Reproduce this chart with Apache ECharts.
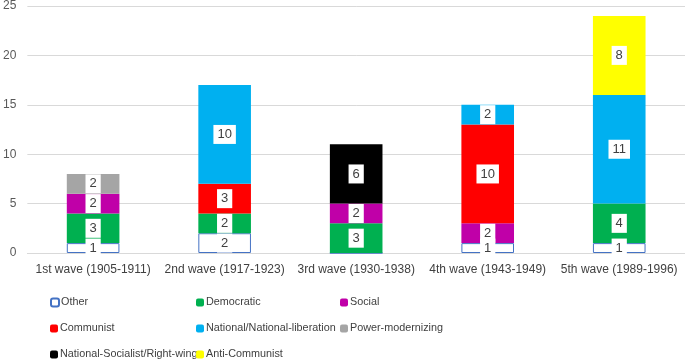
<!DOCTYPE html>
<html>
<head>
<meta charset="utf-8">
<script src="https://cdn.jsdelivr.net/npm/echarts@6/dist/echarts.min.js"></script>
<style>
  html, body { margin: 0; padding: 0; background: #fff; }
  #chart { width: 685px; height: 362px; }
</style>
</head>
<body>
<div id="chart"></div>
<script>
// categories (waves)
const waves = [
  '1st wave (1905-1911)', '2nd wave (1917-1923)', '3rd wave (1930-1938)',
  '4th wave (1943-1949)', '5th wave (1989-1996)'
]
const yTicks = [0, 5, 10, 15, 20, 25]

// counts per type, bottom to top of the stack
const other = [1, 2, 0, 1, 1]
const democratic = [3, 2, 3, 0, 4]
const social = [2, 0, 2, 2, 0]
const communist = [0, 3, 0, 10, 0]
const national = [0, 10, 0, 2, 11]
const powerModernizing = [2, 0, 0, 0, 0]
const nationalSocialist = [0, 0, 6, 0, 0]
const antiCommunist = [0, 0, 0, 0, 8]

const FONT = '"Liberation Sans", Arial, sans-serif'

const seriesDefs = [
  { name: 'Other', data: other, color: '#ffffff', border: '#4472c4' },
  { name: 'Democratic', data: democratic, color: '#00b050' },
  { name: 'Social', data: social, color: '#c000a8' },
  { name: 'Communist', data: communist, color: '#ff0000' },
  { name: 'National/National-liberation', data: national, color: '#00b0f0' },
  { name: 'Power-modernizing', data: powerModernizing, color: '#a5a5a5' },
  { name: 'National-Socialist/Right-wing', data: nationalSocialist, color: '#000000' },
  { name: 'Anti-Communist', data: antiCommunist, color: '#ffff00' }
]

// legend grid: 3 columns x 3 rows, filled row by row
const legendColX = [50, 196, 340]
const legendRowY = [297, 323, 349]

const chart = echarts.init(document.getElementById('chart'))
chart.setOption({
  animation: false,
  textStyle: { fontFamily: FONT },
  grid: { left: 25, right: 0, top: 5, bottom: 109 },
  legend: seriesDefs.map((s, i) => ({
    left: legendColX[i % 3],
    top: legendRowY[Math.floor(i / 3)],
    padding: 0,
    itemWidth: 8,
    itemHeight: 8,
    itemGap: 3,
    selectedMode: false,
    textStyle: { fontFamily: FONT, fontSize: 10.8, color: '#404040', padding: [0, 0, 0, -3] },
    data: [s.name]
  })),
  xAxis: {
    type: 'category',
    data: waves,
    axisLine: { lineStyle: { color: '#d9d9d9' } },
    axisTick: { show: false },
    axisLabel: { color: '#404040', fontSize: 12, margin: 11, interval: 0 }
  },
  yAxis: {
    type: 'value',
    min: yTicks[0],
    max: yTicks[yTicks.length - 1],
    interval: 5,
    axisLine: { show: false },
    axisTick: { show: false },
    splitLine: { lineStyle: { color: '#d9d9d9' } },
    axisLabel: { color: '#595959', fontSize: 12, margin: 11 }
  },
  series: seriesDefs.map(s => ({
    name: s.name,
    type: 'bar',
    stack: 'total',
    barWidth: '40%',
    data: s.data.map(v => (v ? v : { value: 0, label: { show: false } })),
    itemStyle: {
      color: s.color,
      borderColor: s.border || s.color,
      borderWidth: s.border ? 1 : 0
    },
    label: {
      show: true,
      position: 'inside',
      backgroundColor: '#ffffff',
      padding: [3, 4],
      color: '#404040',
      fontSize: 13,
      fontFamily: FONT
    }
  }))
})
</script>
</body>
</html>
